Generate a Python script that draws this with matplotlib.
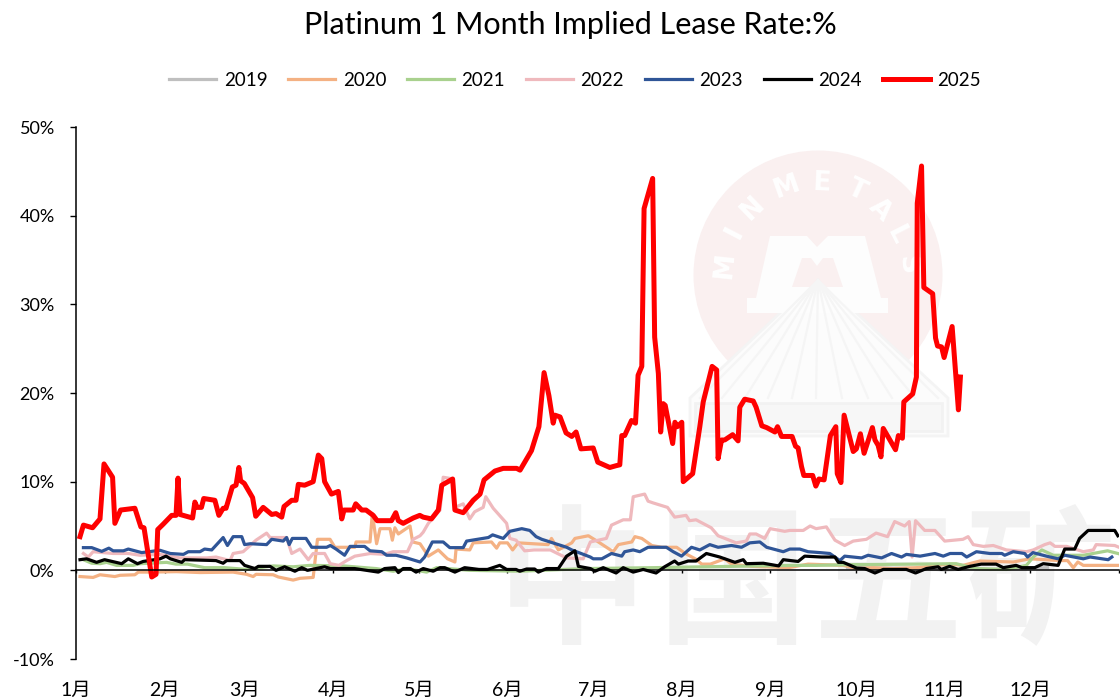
import numpy as np
import matplotlib
matplotlib.use('Agg')
import matplotlib.pyplot as plt
from matplotlib.patches import Circle, Polygon, Rectangle

plt.rcParams['font.family'] = ['Lato', 'Noto Sans CJK SC', 'DejaVu Sans']

# x values are days since 1 Jan, y values are %
month_days = [0, 31, 59, 90, 120, 151, 181, 212, 243, 273, 304, 334, 365]
month_labels = ['1月', '2月', '3月', '4月', '5月', '6月', '7月', '8月', '9月', '10月', '11月', '12月', '']
y_ticks = [-10, 0, 10, 20, 30, 40, 50]

days_2019 = [270, 290, 297, 301, 304, 308, 312, 320, 330, 340]
vals_2019 = [0.3, 0.2, 0.1, 0.1, 0.05, 0.1, 0.2, 0.1, 0.2, 0.3]

days_2020 = [1.4, 6, 8.4, 13.6, 15.4, 20.6, 21.8, 25.9, 35.2, 43.4, 55, 59.7, 62, 63, 69, 70.8, 76, 78.4, 83, 84.5,
             88.9, 90.6, 97.6, 98, 102.9, 103.7, 105.2, 106.4, 109.9, 110.7, 111.6, 112.8, 116.9, 117.8, 120.4, 123.3,
             126.8, 130, 132.6, 133, 137.8, 139, 145.4, 147.2, 148.3, 151, 152.8, 154.7, 165.2, 166.4, 168.8, 173.5,
             174.6, 179.3, 182.8, 188, 189.8, 194.5, 195.6, 198, 201.5, 205, 210.2, 213.2, 216.7, 219, 222, 227, 229.4,
             236.4, 249.3, 256.2, 268.5, 273.2, 279, 286, 294, 305.7, 310.4, 316.3, 328, 333.8, 344.3, 347, 349, 350.6,
             352.5, 365]
vals_2020 = [-0.7, -0.8, -0.5, -0.7, -0.56, -0.5, -0.2, -0.2, -0.15, -0.25, -0.2, -0.45, -0.7, -0.45, -0.5, -0.75, -1.1,
             -0.9, -0.8, 3.5, 3.5, 2.6, 2.6, 3.2, 3.2, 6.4, 3, 4.7, 4.7, 3.4, 4.8, 4.1, 5, 3.2, 3, 1.6, 2.3, 1.3, 0.94,
             2.4, 2.3, 3.1, 3.2, 2.5, 3.1, 3.1, 2.3, 3.1, 2.9, 3.6, 2.3, 3.1, 3.6, 3.9, 3.2, 2.1, 2.9, 3.2, 3.8, 3.6,
             2.8, 2.6, 2.6, 1.9, 1.3, 0.7, 0.7, 1.3, 0.7, 0.45, 0.3, 0.7, 0.56, 0.2, 0.3, 0.2, 0.3, 0.7, 0.56, 1.05,
             0.94, 1.3, 1.1, 1.1, 0.3, 0.94, 0.56, 0.56]

days_2021 = [2.6, 5.5, 8.4, 10.7, 14.2, 20, 22.4, 31.7, 35, 39, 45, 52, 59.7, 69, 76, 81.9, 93.5, 105, 111, 115.7, 122.7,
             126.2, 137.8, 155.3, 178.7, 202, 249.8, 259, 270.8, 294, 308, 315, 325.6, 332.6, 335, 338, 342, 352.5, 361,
             364.6]
vals_2021 = [1.2, 0.8, 0.75, 0.9, 0.56, 0.56, 0.75, 0.9, 0.7, 0.7, 0.3, 0.3, 0.1, 0.5, 0.4, 0.56, 0.5, 0.2, -0.1, 0.2,
             -0.2, 0.3, 0, -0.1, 0.2, 0.3, 0.56, 0.56, 0.64, 0.7, 0.75, 0.2, 0.1, 0.56, 1.5, 2.3, 1.7, 1.7, 2.2, 1.9]

days_2022 = [2.6, 4.3, 6, 13, 18.3, 22.4, 29.4, 36.4, 41, 45.7, 49, 53.9, 55, 58.5, 63, 66.7, 67.9, 73.7, 75.5, 78.4, 81.3,
             83, 87, 89, 92, 94.7, 97.6, 103, 108, 111, 116, 118, 120.4, 121.5, 123.3, 127.4, 128.5, 132, 132.6, 135.5,
             137.8, 139.5, 142.5, 143.4, 146, 150.7, 151.8, 154, 157, 160.3, 166, 168.5, 171.7, 177.5, 180, 185.6, 187.4,
             191.5, 194, 195, 199, 200.2, 202, 207, 209.5, 213.5, 214.7, 217, 222.3, 224.7, 231, 234.6, 235.8, 238, 241,
             242.9, 248, 249.8, 254.5, 256.9, 259, 262.6, 265.6, 269, 272, 276.6, 280, 284, 286.5, 290, 291.6, 292.6,
             293.8, 297, 300.6, 304, 310.4, 312.2, 314, 317.5, 321, 325.6, 332.6, 335, 339, 340.9, 342.6, 346.7, 352.5,
             356, 357, 363.5, 365]
vals_2022 = [1.9, 1.5, 2.1, 1.9, 1.9, 1.7, 1.8, 1.4, 1.4, 1.4, 1.5, 1.1, 1.9, 2.1, 3.4, 4.2, 3.7, 3.7, 1.9, 2.4, 1.2, 1.9,
             1.9, 0.75, 0.56, 1.1, 1.6, 1.9, 1.8, 2.1, 2.1, 3.5, 3.9, 4.3, 5.3, 6.8, 10.5, 10.3, 7.1, 7.5, 5.8, 6.6, 7.1,
             8.3, 7, 5.3, 3.6, 3.4, 2.2, 2.3, 2.3, 1.9, 1.4, 1.3, 3.2, 3.6, 5.1, 5.7, 5.7, 8.3, 8.6, 7.8, 7.6, 7.1, 6, 6.2,
             5.6, 5.7, 4.8, 3.9, 3.1, 3.3, 4.1, 4.1, 3.6, 4.7, 4.4, 4.5, 4.5, 5, 4.7, 4.9, 3.4, 2.8, 3.3, 3.5, 4.2, 3.8,
             5.5, 5, 5.5, 1.5, 5.6, 4.5, 4.5, 3.3, 3.5, 3.8, 2.9, 2.7, 2.8, 2.3, 2.1, 2.3, 2.9, 3.1, 2.7, 2.7, 2.1, 2.3,
             2.9, 2.8, 2.6]

days_2023 = [2.6, 5.5, 9, 11.5, 13, 16.6, 18.3, 23, 29.4, 33, 37.6, 39.3, 43.4, 45, 47.5, 51.5, 53, 55, 58, 59, 61, 66.7,
             68.5, 72.5, 73.7, 74.6, 75.7, 80.5, 82.5, 87.7, 89, 91, 94, 95.9, 101, 102.9, 107, 108.7, 112, 115.7, 120.4,
             122, 124.7, 128.5, 130.8, 135.5, 136.7, 144.3, 145.8, 149.5, 151.8, 156, 158.8, 161, 163, 171.7, 173.5, 180,
             181, 184, 187.4, 191, 192, 195, 197.3, 200.2, 206.6, 209, 211.9, 215.4, 218.3, 221.8, 224.7, 229.4, 232.9,
             235.8, 239.3, 241.7, 247.5, 249.8, 253.3, 256.2, 260.3, 263.8, 267.3, 269, 274.9, 277.2, 281.9, 285.4, 288.9,
             290.6, 295.4, 300.6, 303.5, 305.9, 310, 311.7, 315.1, 319.8, 324, 325, 328, 332, 333, 334.9, 339.6, 343.7,
             346, 352.5, 354.9, 361.2, 362.5]
vals_2023 = [2.56, 2.56, 2.14, 2.5, 2.2, 2.2, 2.4, 2, 2.26, 1.9, 1.8, 2.1, 2.1, 2.4, 2.3, 3.7, 2.8, 3.8, 3.8, 2.9, 3, 2.9,
             3.5, 3.3, 3.7, 2.9, 3.6, 3.6, 2.6, 2.6, 2.8, 2.4, 1.7, 2.7, 2.7, 2.2, 2.1, 1.7, 1.7, 1.4, 0.94, 1.5, 3.2, 3.2,
             2.56, 2.56, 3.3, 3.7, 4, 3.6, 4.4, 4.7, 4.5, 3.8, 3.5, 2.6, 2.3, 1.5, 1.3, 1.3, 1.9, 1.6, 2.1, 2.3, 2.1, 2.6,
             2.6, 2.1, 1.6, 2.6, 2.3, 2.9, 2.6, 2.8, 2.6, 3.1, 3.2, 2.6, 2.1, 2.4, 2.4, 2.1, 2, 1.9, 1.1, 1.6, 1.4, 1.7, 1.4,
             1.9, 1.5, 1.8, 1.6, 1.9, 1.6, 1.9, 1.9, 1.5, 2.1, 1.9, 1.9, 1.7, 2.1, 1.9, 1.5, 2, 1.6, 1.3, 1.7, 1.3, 1.5, 1.2,
             1.5]

days_2024 = [1.4, 3.7, 7.2, 10, 16, 18.3, 21.5, 23.5, 29.4, 31.5, 33, 37, 38, 49, 51.5, 52.7, 57.4, 59, 62.6, 63.8, 67.9,
             70, 73, 76.6, 79, 81, 87, 89, 97.5, 105.8, 108, 111.6, 112.8, 114.5, 117, 119, 121.5, 125, 127.4, 129, 132.6,
             136, 141, 144, 148.3, 150.7, 154, 155.3, 157.7, 160.5, 161.8, 164.7, 168.8, 171.7, 174.6, 175.8, 180, 181.6,
             184.5, 189, 191.5, 195, 198.5, 203, 206, 209.5, 210.8, 214.2, 217, 220.6, 225.3, 230.6, 233.5, 234.6, 240.5,
             245.9, 247.5, 252.7, 255, 260.9, 265.6, 266.8, 268.5, 273.2, 276, 279.6, 282.5, 290.6, 293.8, 297.6, 301.7,
             302.8, 305.7, 308.7, 312.8, 316.8, 322, 324.5, 329, 331, 335.5, 338.5, 343.7, 346, 349.5, 351.2, 354.2, 363.5,
             364.6]
vals_2024 = [1.2, 1.3, 0.9, 1.2, 0.75, 1.3, 0.75, 1, 1.3, 1.6, 1.3, 0.9, 1.2, 1.1, 0.8, 1.1, 1.1, 0.56, 0.2, 0.45, 0.45, 0,
             0.4, -0.1, 0.3, 0, 0.4, 0.2, 0.2, -0.2, 0.2, 0.3, -0.25, 0.2, 0.2, -0.2, 0.2, -0.1, 0.3, 0.3, -0.2, 0.3, 0.1,
             0.1, 0.56, 0.1, 0.1, -0.1, 0.15, 0.15, -0.2, 0.2, 0.2, 1.6, 2.2, 0.45, 0.2, -0.1, 0.3, -0.3, 0.3, -0.2, 0.1, -0.3,
             0.4, 1.05, 0.7, 1.05, 1.05, 1.9, 1.5, 0.9, 1.2, 0.75, 0.8, 0.5, 1.2, 1, 1.6, 1.5, 1.5, 0.9, 0.9, 0.25, 0.2, -0.3,
             0.1, 0.1, -0.3, 0.2, 0.4, 0.1, 0.45, 0.1, 0.45, 0.7, 0.7, 0.3, 0.56, 0.3, 0.3, 0.75, 0.56, 2.4, 2.4, 3.6, 4.5, 4.5,
             3.9]

days_2025 = [1.4, 2.6, 5.8, 8.4, 9.8, 12.8, 13.6, 15.6, 20.6, 22.7, 23.8, 26.5, 28, 28.6, 30.5, 33.5, 35, 35.7, 36.4, 40.8,
             41.6, 42.4, 43.9, 44.7, 48.6, 50, 51.5, 52.5, 54.7, 56, 57, 57.6, 58.9, 61.8, 62.9, 65.5, 68.5, 70, 72, 72.8,
             75.5, 77, 77.8, 80, 83, 84.8, 86, 87, 89.4, 91.8, 93, 93.8, 97, 97.9, 100, 101.5, 104, 105.4, 110.4, 111.9,
             112.8, 114.5, 118, 120.3, 121.5, 124.4, 126.8, 128, 131.8, 132.6, 135.5, 139, 141.4, 142.8, 146.6, 149.5,
             154.2, 155.4, 159.4, 162, 163.8, 165.5, 167, 167.6, 169.4, 171.5, 173.5, 175, 176.7, 181, 182.6, 186.8, 189,
             190.3, 191, 192, 194.4, 195.8, 196.7, 198, 198.8, 201.8, 202.5, 203.8, 204.6, 205.5, 206.2, 208.8, 209.6, 210.4,
             212, 212.5, 215.8, 218.3, 219.5, 222.6, 224.2, 224.7, 225.9, 227, 229.8, 231.7, 232.3, 234, 237, 238, 240,
             241.7, 244.6, 245.5, 246.9, 250.6, 251.8, 252.7, 253.9, 254.7, 257.8, 258.9, 260, 261.8, 264, 265.9, 266.4,
             267.7, 268.8, 272, 273.1, 274.5, 275.8, 278.7, 279.6, 280.7, 281.7, 282.5, 286.8, 287.8, 289.2, 289.7, 292.8,
             294.1, 294.4, 295.9, 296.7, 299.8, 300.8, 301.5, 302.9, 303.8, 306.6, 308.8, 309.5]
vals_2025 = [3.8, 5.1, 4.8, 5.8, 12, 10.5, 5.3, 6.8, 7, 4.9, 4.8, -0.75, -0.45, 4.6, 5.2, 6.2, 6.2, 10.4, 6.3, 5.9, 7.7, 7.1,
             7.1, 8.1, 7.9, 6.2, 7, 7, 9.4, 9.6, 11.6, 10.1, 9.8, 8.2, 6.1, 7.1, 6.3, 6.4, 6, 7.2, 7.9, 7.9, 9.7, 9.6, 10, 13,
             12.6, 10, 8.6, 8.9, 5.8, 6.8, 6.8, 7.5, 6.8, 6.8, 6.2, 5.6, 5.6, 6.5, 5.6, 5.3, 5.9, 6.2, 6, 5.8, 6.8, 9.6, 10.3,
             6.8, 6.5, 7.9, 8.6, 10.2, 11.2, 11.5, 11.5, 11.3, 13.5, 16.2, 22.3, 19.7, 16.6, 17.5, 17.3, 15.5, 15.1, 15.6, 13.7,
             13.8, 12.2, 11.6, 11.8, 11.9, 15.2, 15.2, 16.9, 16.6, 22, 23, 40.8, 44.2, 26.3, 22.2, 15.6, 18.8, 18.6, 14.3, 16.7,
             16.2, 16.7, 10, 10.9, 16.2, 19, 23, 22.6, 12.6, 14.7, 14.7, 15.3, 14.6, 18.4, 19.3, 19.1, 18.4, 16.3, 16.1, 15.6,
             16.2, 15.1, 15.1, 14, 13.8, 11.7, 10.7, 10.7, 9.5, 10.3, 10.2, 15.2, 16.2, 10.9, 9.9, 17.5, 13.4, 13.7, 15.4, 13.2,
             16.1, 14.7, 14.1, 12.8, 16, 13.6, 15.2, 14.9, 19, 19.9, 21.8, 41.4, 45.6, 31.9, 31.2, 26.2, 25.3, 25.2, 24, 27.5,
             18.1, 21.8]

fig = plt.figure(figsize=(11.2, 6.99), dpi=100)

# watermark, in pixel coordinates
bg = fig.add_axes([0, 0, 1, 1], zorder=0)
bg.set_xlim(0, 1120)
bg.set_ylim(699, 0)
bg.axis('off')

cx, cy = 818, 275
bg.add_patch(Circle((cx, cy), 124.5, fc='#faf0f0', ec='none'))
bg.add_patch(Polygon([(690, 398), (815, 280), (821, 280), (948, 398), (948, 436), (690, 436)], fc='#fcfcfc', ec='#f4f4f4', lw=2))
for rx in [700, 722, 745, 768, 792, 816, 842, 868, 892, 915, 938]:
    bg.plot([818, rx], [280, 398], color='#f5f5f5', lw=1.6)
bg.add_patch(Polygon([(770, 236), (807, 236), (817, 247), (828, 236), (865, 236), (881, 298), (888, 298), (888, 313),
                      (747, 313), (747, 298), (756, 298)], fc='#fdfdfd', ec='none'))
bg.add_patch(Polygon([(802, 258), (811, 258), (817, 266), (823, 258), (833, 258), (843, 287), (792, 287)], fc='#faf0f0', ec='none'))
bg.add_patch(Rectangle((695, 403), 247, 28, fc='#f7f7f7', ec='#f2f2f2', lw=2))

logo_letters = ['M', 'I', 'N', 'M', 'E', 'T', 'A', 'L', 'S']
logo_x = [725, 735, 753, 787, 822, 857, 880, 897, 907]
logo_y = [265, 232, 208, 187, 183, 190, 210, 235, 265]
for ch, lx, ly in zip(logo_letters, logo_x, logo_y):
    rot = -np.degrees(np.arctan2(lx - cx, cy - ly))
    bg.text(lx, ly, ch, color='white', fontsize=19, fontweight='bold', ha='center', va='center', rotation=rot,
            family=['DejaVu Sans'])

for ch, lx in zip(['中', '国', '五', '矿'], [572, 733, 888, 1040]):
    bg.text(lx, 588, ch, color='#f2f2f2', fontsize=108, fontweight='bold', ha='center', va='center',
            family=['Noto Sans CJK SC'])

# main chart
ax = fig.add_axes([76 / 1120, 1 - 659 / 699, (1119 - 76) / 1120, (659 - 127) / 699], zorder=1)
ax.patch.set_alpha(0)

ax.plot(days_2019, vals_2019, color='#BFBFBF', lw=2.3, label='2019')
ax.plot(days_2020, vals_2020, color='#F4B183', lw=2.3, label='2020')
ax.plot(days_2021, vals_2021, color='#A9D18E', lw=2.3, label='2021')
ax.plot(days_2022, vals_2022, color='#EFB9BD', lw=2.3, label='2022')
ax.plot(days_2023, vals_2023, color='#2F5597', lw=2.3, label='2023')
ax.plot(days_2024, vals_2024, color='black', lw=2.3, label='2024')
ax.plot(days_2025, vals_2025, color='#FF0000', lw=3.6, label='2025')

ax.set_xlim(0, 365)
ax.set_ylim(-10, 50)
ax.set_yticks(y_ticks)
ax.set_yticklabels(['%d%%' % v for v in y_ticks])
ax.set_xticks(month_days)
ax.set_xticklabels(month_labels)

ax.spines['top'].set_visible(False)
ax.spines['right'].set_visible(False)
ax.spines['bottom'].set_position(('data', 0))
ax.spines['bottom'].set_linewidth(1.1)
ax.spines['left'].set_linewidth(1.1)
ax.tick_params(axis='y', length=4.3, width=1, pad=11, labelsize=13)
ax.tick_params(axis='x', length=2.5, width=1, pad=77.5, labelsize=14)

fig.text(570 / 1120, 1 - 25 / 699, 'Platinum 1 Month Implied Lease Rate:%', fontsize=22, ha='center', va='center')
fig.legend(loc='center', bbox_to_anchor=(575 / 1120, 1 - 80 / 699), ncol=7, frameon=False, fontsize=13.5,
           handlelength=2.5, handletextpad=0.4, columnspacing=1.12)

fig.savefig('out.png', dpi=100)
